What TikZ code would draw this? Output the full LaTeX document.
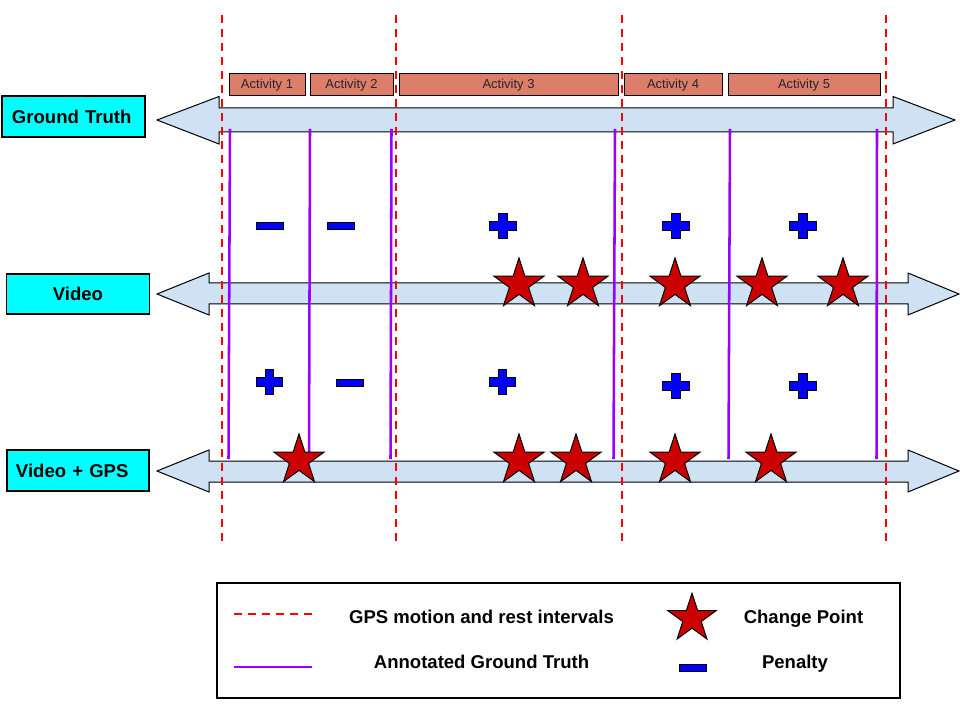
\documentclass[tikz,border=0pt]{standalone}
\usepackage{fontspec}
\setmainfont{Liberation Sans}
\usetikzlibrary{shapes.geometric}
\definecolor{cyanbox}{HTML}{00FFFF}
\definecolor{arrowblue}{HTML}{CFE2F3}
\definecolor{actred}{HTML}{DD7E6B}
\definecolor{gtpurple}{HTML}{9900FF}
\definecolor{starred}{HTML}{CC0000}
\definecolor{penblue}{HTML}{0000FF}
\begin{document}
\begin{tikzpicture}[x=0.75pt,y=-0.75pt,
  rowlabel/.style={draw=black, line width=0.9pt, fill=cyanbox, font=\bfseries\fontsize{13.9}{16}\selectfont, inner xsep=7pt, inner ysep=0pt, text width=93pt},
  activity/.style={draw=black, line width=0.75pt, fill=actred, minimum height=16.5pt, inner sep=0pt, font=\fontsize{9.75}{11}\selectfont, text=black!85},
  timeline/.style={draw=black, line width=0.75pt, fill=arrowblue},
  gpsline/.style={red, line width=1.5pt, dash pattern=on 6pt off 4.5pt},
  truthline/.style={gtpurple, line width=1.9pt},
  cpstar/.style={star, star points=5, star point ratio=2.618, draw=black, line width=0.75pt, fill=starred, minimum size=39.5pt, inner sep=0pt},
  penminus/.style={rectangle, draw=black, line width=0.75pt, fill=penblue, minimum width=20.25pt, minimum height=5.25pt, inner sep=0pt},
  pics/penplus/.style={code={\draw[black, line width=0.75pt, fill=penblue] (-4.2,-12.2) -- (4.2,-12.2) -- (4.2,-4.2) -- (13.3,-4.2) -- (13.3,4.2) -- (4.2,4.2) -- (4.2,12.2) -- (-4.2,12.2) -- (-4.2,4.2) -- (-13.3,4.2) -- (-13.3,-4.2) -- (-4.2,-4.2) -- cycle;}},
  legtext/.style={font=\bfseries\fontsize{13.9}{16}\selectfont, anchor=base, inner sep=0pt}
]
\useasboundingbox[fill=white] (0,0) rectangle (960,720);

% timelines (double arrows)
\draw[timeline] (157,120) -- (219,96.5) -- (219,108) -- (893,108) -- (893,96.5) -- (955,120) -- (893,144) -- (893,132) -- (219,132) -- (219,144) -- cycle;
\draw[timeline] (157,294) -- (209,273) -- (209,283) -- (908,283) -- (908,273) -- (959,294) -- (908,315) -- (908,304) -- (209,304) -- (209,315) -- cycle;
\draw[timeline] (157,471) -- (209,450) -- (209,461) -- (908,461) -- (908,450) -- (959,471) -- (908,492) -- (908,482) -- (209,482) -- (209,492) -- cycle;

% row labels
\node[rowlabel, align=left, minimum height=30.75pt, inner xsep=7.5pt, text width=92.25pt] (gt) at (73.5,116.5) {Ground Truth};
\node[rowlabel, align=center, minimum height=30pt] (video) at (78,294) {Video};
\node[rowlabel, align=left, minimum height=30.75pt, inner xsep=6.75pt] (vgps) at (78,470.5) {Video + GPS};

% activities
\node[activity, minimum width=57pt] (a1) at (267,85) {Activity 1};
\node[activity, minimum width=62.25pt] (a2) at (351.5,85) {Activity 2};
\node[activity, minimum width=164.25pt] (a3) at (508.5,85) {Activity 3};
\node[activity, minimum width=73.5pt] (a4) at (673,85) {Activity 4};
\node[activity, minimum width=114pt] (a5) at (804,85) {Activity 5};

% GPS motion / rest interval boundaries
\foreach \i/\x in {1/222, 2/396, 3/622, 4/886} {
  \coordinate (gpst\i) at (\x,15);
  \coordinate (gpsb\i) at (\x,545);
  \draw[gpsline] (gpst\i) -- (gpsb\i);
}

% annotated ground truth
\foreach \i/\xt/\xb in {1/230/228.5, 2/310/309, 3/391.5/390.5, 4/615/613.5, 5/730/728.5, 6/877/876.5} {
  \coordinate (trt\i) at (\xt,129);
  \coordinate (trb\i) at (\xb,459);
  \draw[truthline] (trt\i) -- (trb\i);
}

% penalties row 1
\node[penminus] (m11) at (269.5,226) {};
\node[penminus] (m12) at (341,226) {};
\pic (p13) at (503,226) {penplus};
\pic (p14) at (676,226) {penplus};
\pic (p15) at (803,226) {penplus};

% penalties row 2
\pic (p21) at (269.5,382) {penplus};
\node[penminus] (m22) at (350,382.5) {};
\pic (p23) at (502.5,382) {penplus};
\pic (p24) at (676,386) {penplus};
\pic (p25) at (803,386) {penplus};

% change points
\foreach \i/\x in {1/519, 2/583, 3/675, 4/762, 5/843}
  \node[cpstar] (vs\i) at (\x,284.3) {};
\foreach \i/\x in {1/299, 2/519, 3/576, 4/675, 5/771}
  \node[cpstar] (gs\i) at (\x,460.3) {};

% legend
\node[draw=black, line width=1.1pt, minimum width=512.25pt, minimum height=86.25pt, inner sep=0pt] (legend) at (558.5,640.5) {};
\coordinate (lg1) at (234,614);
\coordinate (lg2) at (312,614);
\draw[gpsline] (lg1) -- (lg2);
\coordinate (lt1) at (234,667);
\coordinate (lt2) at (312,667);
\draw[truthline, line width=2.2pt] (lt1) -- (lt2);
\node[legtext] (lgtext) at (481.5,623) {GPS motion and rest intervals};
\node[legtext] (lttext) at (481.5,668) {Annotated Ground Truth};
\node[cpstar, minimum size=38pt] (lstar) at (692,618.5) {};
\node[legtext] (lstext) at (803.5,623) {Change Point};
\node[penminus] (lpen) at (692.5,667.5) {};
\node[legtext] (lptext) at (795,668) {Penalty};
\end{tikzpicture}
\end{document}
